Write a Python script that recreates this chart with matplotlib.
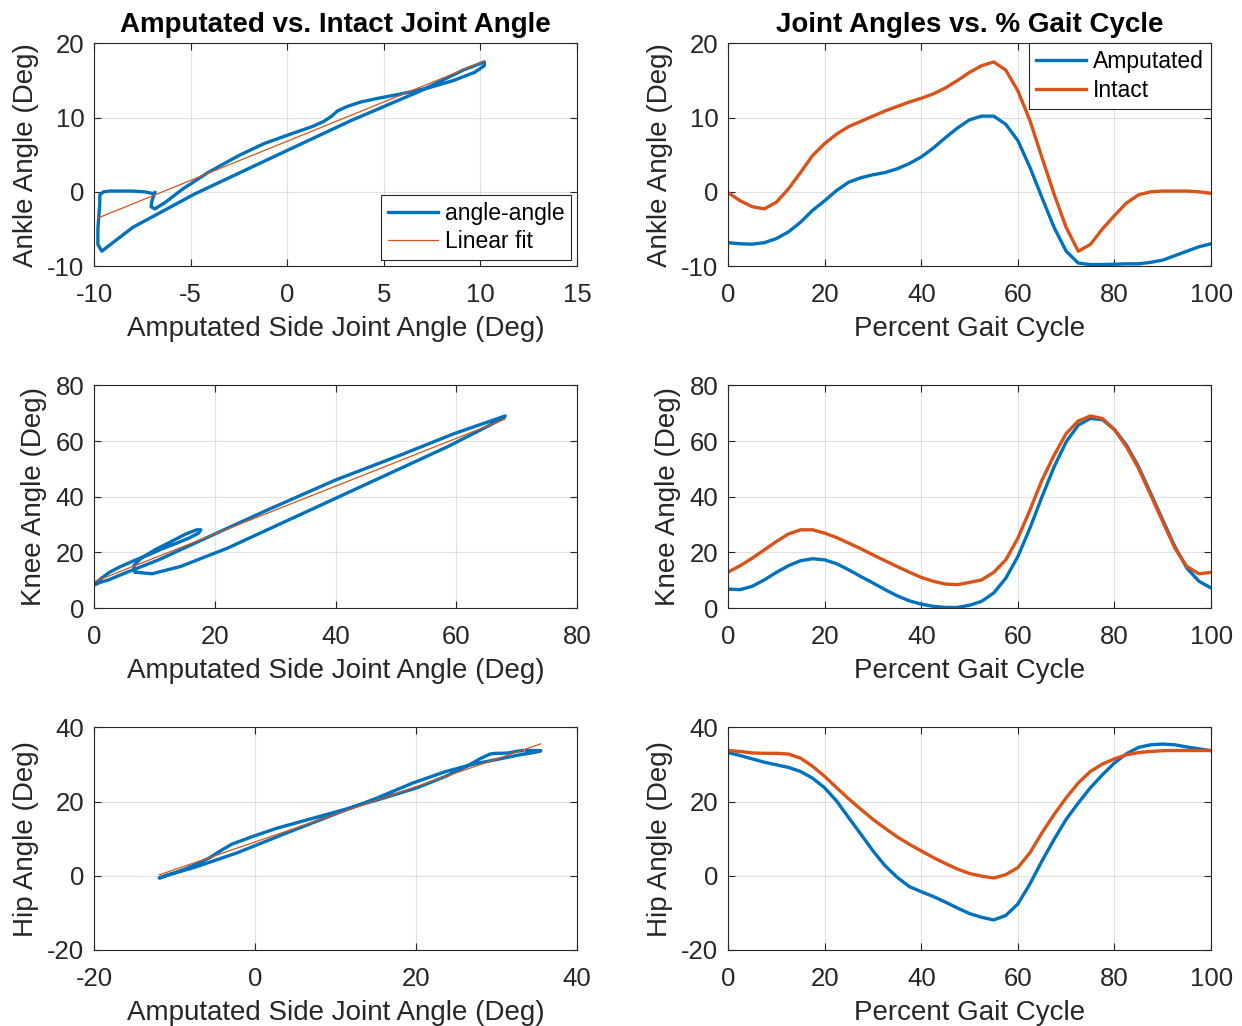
import numpy as np
from matplotlib import pyplot as plt

# percent of gait cycle, sampled every 2.5 %
pct = np.arange(0, 100.1, 2.5)

ankle_amp = [-6.85, -7.0, -7.05, -6.85, -6.3, -5.4, -4.1, -2.5, -1.2, 0.2,
             1.3, 1.9, 2.3, 2.6, 3.1, 3.8, 4.7, 5.9, 7.3, 8.6,
             9.7, 10.2, 10.2, 9.1, 6.9, 3.3, -0.8, -4.8, -8.0, -9.6,
             -9.8, -9.8, -9.75, -9.7, -9.7, -9.5, -9.2, -8.6, -8.0, -7.4,
             -7.0]
ankle_int = [-0.1, -1.2, -2.0, -2.3, -1.4, 0.4, 2.6, 4.9, 6.5, 7.8,
             8.8, 9.5, 10.2, 10.9, 11.5, 12.1, 12.6, 13.2, 14.0, 15.0,
             16.1, 17.0, 17.5, 16.4, 13.6, 9.6, 4.6, -0.3, -4.8, -8.0,
             -7.1, -5.0, -3.2, -1.5, -0.4, 0.0, 0.1, 0.1, 0.1, 0.0,
             -0.2]

knee_amp = [6.8, 6.6, 7.8, 10.1, 12.8, 15.2, 17.0, 17.7, 17.3, 15.9,
            13.7, 11.3, 9.0, 6.6, 4.4, 2.6, 1.4, 0.6, 0.2, 0.2,
            1.0, 2.4, 5.4, 10.7, 18.5, 28.7, 40.0, 50.7, 59.7, 65.7,
            68.1, 67.7, 64.1, 58.5, 50.7, 41.2, 31.6, 22.1, 14.3, 9.6,
            7.2]
knee_int = [12.9, 15.2, 17.9, 20.9, 23.9, 26.6, 28.1, 28.1, 26.9, 25.3,
            23.3, 21.3, 19.1, 17.0, 14.9, 12.9, 11.0, 9.6, 8.6, 8.4,
            9.2, 10.1, 12.8, 17.3, 25.1, 35.2, 46.0, 54.9, 62.7, 67.2,
            69.0, 68.1, 64.1, 57.9, 50.1, 40.6, 31.0, 21.5, 14.9, 12.3,
            12.8]

hip_amp = [33.2, 32.4, 31.5, 30.6, 29.9, 29.2, 28.1, 26.3, 23.7, 20.1,
           15.6, 11.2, 6.7, 2.7, -0.4, -2.9, -4.3, -5.6, -7.1, -8.7,
           -10.2, -11.2, -11.9, -10.7, -7.6, -2.2, 4.0, 9.8, 15.2, 19.6,
           23.7, 27.2, 30.4, 32.9, 34.6, 35.3, 35.5, 35.3, 34.7, 34.2,
           33.7]
hip_int = [33.75, 33.5, 33.1, 33.0, 33.0, 32.8, 31.7, 29.5, 26.8, 23.7,
           20.7, 17.9, 15.2, 12.8, 10.5, 8.5, 6.7, 4.9, 3.3, 1.8,
           0.6, -0.1, -0.6, 0.3, 2.2, 6.2, 11.6, 16.5, 21.0, 25.0,
           28.1, 30.1, 31.5, 32.6, 33.2, 33.5, 33.7, 33.75, 33.75, 33.75,
           33.75]

joints = [
    ("Ankle Angle (Deg)", ankle_amp, ankle_int, (-10, 15, 5), (-10, 20, 10)),
    ("Knee Angle (Deg)", knee_amp, knee_int, (0, 80, 20), (0, 80, 20)),
    ("Hip Angle (Deg)", hip_amp, hip_int, (-20, 40, 20), (-20, 40, 20)),
]

blue = "#0072BD"
orange = "#D95319"
axcol = "#262626"

plt.rcParams["font.family"] = ["Liberation Sans", "DejaVu Sans"]
plt.rcParams["axes.unicode_minus"] = False
plt.rcParams["lines.solid_joinstyle"] = "round"

fig = plt.figure(figsize=(12.42, 10.26), dpi=100)

lefts = [0.0757, 0.5862]
bottoms = [0.7407, 0.4074, 0.0741]
w, h = 0.3889, 0.2170


def style(ax):
    ax.grid(True, color="#262626", alpha=0.13, linewidth=0.8)
    ax.tick_params(direction="in", length=5, width=0.8, labelsize=18.5,
                   colors=axcol, top=True, right=True)
    ax.tick_params(axis="x", pad=12)
    ax.tick_params(axis="y", pad=7)
    for s in ax.spines.values():
        s.set_color(axcol)
        s.set_linewidth(0.8)
    ax.set_axisbelow(True)


for i, (ylab, amp, intact, xl, yl) in enumerate(joints):
    amp = np.array(amp)
    intact = np.array(intact)

    # angle-angle plot
    ax = fig.add_axes([lefts[0], bottoms[i], w, h])
    ax.plot(amp, intact, color=blue, lw=2.4, label="angle-angle")
    k, b = np.polyfit(amp, intact, 1)
    xf = np.array([amp.min(), amp.max()])
    ax.plot(xf, k * xf + b, color=orange, lw=0.9, label="Linear fit")
    ax.set_xlim(xl[0], xl[1])
    ax.set_ylim(yl[0], yl[1])
    ax.set_xticks(np.arange(xl[0], xl[1] + 0.1, xl[2]))
    ax.set_yticks(np.arange(yl[0], yl[1] + 0.1, yl[2]))
    ax.set_xlabel("Amputated Side Joint Angle (Deg)", fontsize=20, color=axcol, labelpad=7)
    ax.set_ylabel(ylab, fontsize=20, color=axcol, labelpad=6)
    style(ax)
    if i == 0:
        ax.set_title("Amputated vs. Intact Joint Angle", fontsize=20, fontweight="bold", pad=8)
        leg = ax.legend(loc="lower right", fontsize=16.5, fancybox=False, framealpha=1,
                        edgecolor=axcol, handlelength=2.2, handletextpad=0.3,
                        borderpad=0.3, labelspacing=0.25, borderaxespad=0.25)
        leg.get_frame().set_linewidth(0.8)

    # vs gait cycle
    ax2 = fig.add_axes([lefts[1], bottoms[i], w, h])
    ax2.plot(pct, amp, color=blue, lw=2.4, label="Amputated")
    ax2.plot(pct, intact, color=orange, lw=2.4, label="Intact")
    ax2.set_xlim(0, 100)
    ax2.set_ylim(yl[0], yl[1])
    ax2.set_xticks(np.arange(0, 101, 20))
    ax2.set_yticks(np.arange(yl[0], yl[1] + 0.1, yl[2]))
    ax2.set_xlabel("Percent Gait Cycle", fontsize=20, color=axcol, labelpad=7)
    ax2.set_ylabel(ylab, fontsize=20, color=axcol, labelpad=6)
    style(ax2)
    if i == 0:
        ax2.set_title("Joint Angles vs. % Gait Cycle", fontsize=20, fontweight="bold", pad=8)
        leg = ax2.legend(loc="upper right", fontsize=16.5, fancybox=False, framealpha=1,
                         edgecolor=axcol, handlelength=2.2, handletextpad=0.3,
                         borderpad=0.3, labelspacing=0.25, borderaxespad=0.0)
        leg.get_frame().set_linewidth(0.8)

fig.savefig("out.png", dpi=100, facecolor="white")
